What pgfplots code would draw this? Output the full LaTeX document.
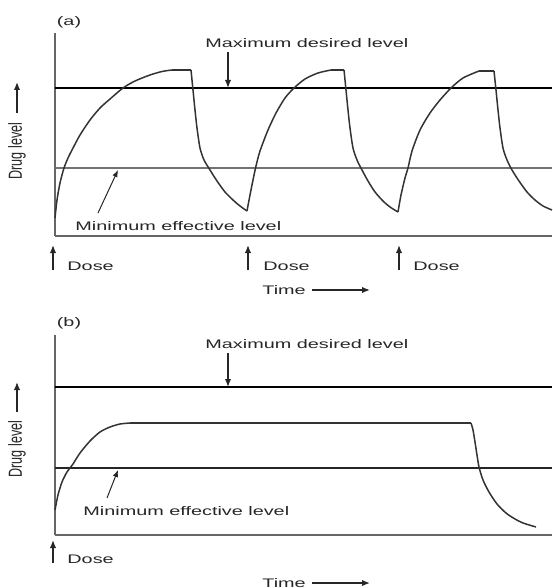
\documentclass[border=0pt]{standalone}
\usepackage{pgfplots}
\pgfplotsset{compat=1.18}
\usetikzlibrary{arrows.meta}
\usepackage{fontspec}
\setmainfont{Liberation Sans}
\newfontfamily\lab[FakeStretch=1.6]{Liberation Sans}
\tikzset{
  lbl/.style={font=\lab\fontsize{6.2}{7}\selectfont, inner sep=0pt, text=black!85},
  vlbl/.style={font=\fontsize{6.3}{7}\selectfont, inner sep=0pt, text=black!85, rotate=90},
  ar/.style={-{Latex[length=4pt,width=3.2pt]}, line width=0.7pt, black!85},
  thinar/.style={-{Latex[length=3.5pt,width=2.8pt]}, line width=0.5pt, black!85},
}
\pgfplotsset{
  panel/.style={scale only axis, width=248.5pt, xmin=55, xmax=552,
    axis x line*=bottom, axis y line*=left,
    axis line style={black!60, line width=1pt},
    xtick=\empty, ytick=\empty, clip=false, anchor=south west},
  curve/.style={black!80, line width=0.75pt, smooth, tension=0.45, no marks},
  flat/.style={black!80, line width=0.75pt, no marks},
}
\begin{document}
\begin{tikzpicture}
\useasboundingbox (0pt,0pt) rectangle (276pt,-294pt);
% ---------------- Panel (a) ----------------
\begin{axis}[panel, at={(27.5pt,-118pt)}, height=101.5pt, ymin=-236, ymax=-33]
\addplot[black, line width=0.75pt] coordinates {(55,-88) (552,-88)};
\addplot[black!55, line width=1pt] coordinates {(55,-168) (552,-168)};
\addplot[curve] coordinates {(55,-218)(57,-200)(60,-183)(64,-168)(68,-158)(72,-150)(80,-135)(90,-120)(100,-108)(110,-99)(123,-88)(135,-81)(150,-75)(162,-71.5)(172,-70)};
\addplot[flat] coordinates {(172,-70)(191,-70)};
\addplot[curve] coordinates {(191,-70)(193,-90)(195,-110)(197,-128)(200,-148)(204,-160)(210,-170)(217,-181)(225,-192)(233,-200)(240,-206)(247,-211)};
\addplot[curve] coordinates {(247,-211)(250,-195)(253,-180)(256,-166)(260,-151)(268,-130)(276,-113)(285,-98)(294,-88)(305,-79)(318,-73)(331,-70)};
\addplot[flat] coordinates {(331,-70)(344,-70)};
\addplot[curve] coordinates {(344,-70)(346,-90)(348,-110)(350,-128)(353,-148)(357,-160)(362,-170)(368,-181)(375,-192)(383,-201)(390,-207)(398,-212)};
\addplot[curve] coordinates {(398,-212)(401,-195)(405,-178)(408,-168)(412,-151)(420,-130)(430,-113)(440,-100)(451,-88)(463,-78)(479,-71)};
\addplot[flat] coordinates {(479,-71)(494,-71)};
\addplot[curve] coordinates {(494,-71)(496,-90)(498,-110)(500,-128)(503,-148)(507,-160)(512,-170)(519,-181)(527,-192)(535,-200)(543,-206)(552,-210)};
\node[lbl, anchor=center] at (axis cs:69,-22) {(a)};
\node[lbl, anchor=base west] at (axis cs:205,-48) {Maximum desired level};
\draw[ar] (axis cs:228,-52) -- (axis cs:228,-88);
\node[lbl, anchor=base west] at (axis cs:75,-230) {Minimum effective level};
\draw[thinar] (axis cs:98,-213) -- (axis cs:118,-170);
\node[vlbl] at (axis cs:17,-151) {\scalebox{1}[1.5]{Drug level}};
\draw[ar] (axis cs:17,-113) -- (axis cs:17,-82);
\draw[ar] (axis cs:53,-270) -- (axis cs:53,-245);
\node[lbl, anchor=base west] at (axis cs:67,-270) {Dose};
\draw[ar] (axis cs:248,-270) -- (axis cs:248,-245);
\node[lbl, anchor=base west] at (axis cs:263,-270) {Dose};
\draw[ar] (axis cs:399,-270) -- (axis cs:399,-245);
\node[lbl, anchor=base west] at (axis cs:413,-270) {Dose};
\node[lbl, anchor=base west] at (axis cs:262,-294) {Time};
\draw[ar] (axis cs:312,-290) -- (axis cs:370,-290);
\end{axis}
% ---------------- Panel (b) ----------------
\begin{axis}[panel, at={(27.5pt,-267.5pt)}, height=100pt, ymin=-535, ymax=-335]
\addplot[black, line width=0.75pt] coordinates {(55,-387) (552,-387)};
\addplot[black!85, line width=0.75pt] coordinates {(55,-468) (552,-468)};
\addplot[curve] coordinates {(55,-510)(58,-495)(62,-482)(67,-472)(73,-464)(80,-453)(90,-441)(100,-432)(110,-427)(120,-424)(130,-423)};
\addplot[flat] coordinates {(130,-423)(471,-423)};
\addplot[curve] coordinates {(471,-423)(473,-430)(475,-442)(477,-455)(479,-467)(483,-480)(489,-492)(497,-504)(506,-513)(515,-519)(523,-523)(536,-527)};
\node[lbl, anchor=center] at (axis cs:69,-323) {(b)};
\node[lbl, anchor=base west] at (axis cs:205,-348) {Maximum desired level};
\draw[ar] (axis cs:228,-353) -- (axis cs:228,-387);
\node[lbl, anchor=base west] at (axis cs:83,-515) {Minimum effective level};
\draw[thinar] (axis cs:107,-498) -- (axis cs:118,-470);
\node[vlbl] at (axis cs:17,-449) {\scalebox{1}[1.5]{Drug level}};
\draw[ar] (axis cs:17,-412) -- (axis cs:17,-382);
\draw[ar] (axis cs:53,-563) -- (axis cs:53,-540);
\node[lbl, anchor=base west] at (axis cs:67,-563) {Dose};
\node[lbl, anchor=base west] at (axis cs:262,-587) {Time};
\draw[ar] (axis cs:312,-583) -- (axis cs:370,-583);
\end{axis}
\end{tikzpicture}
\end{document}
